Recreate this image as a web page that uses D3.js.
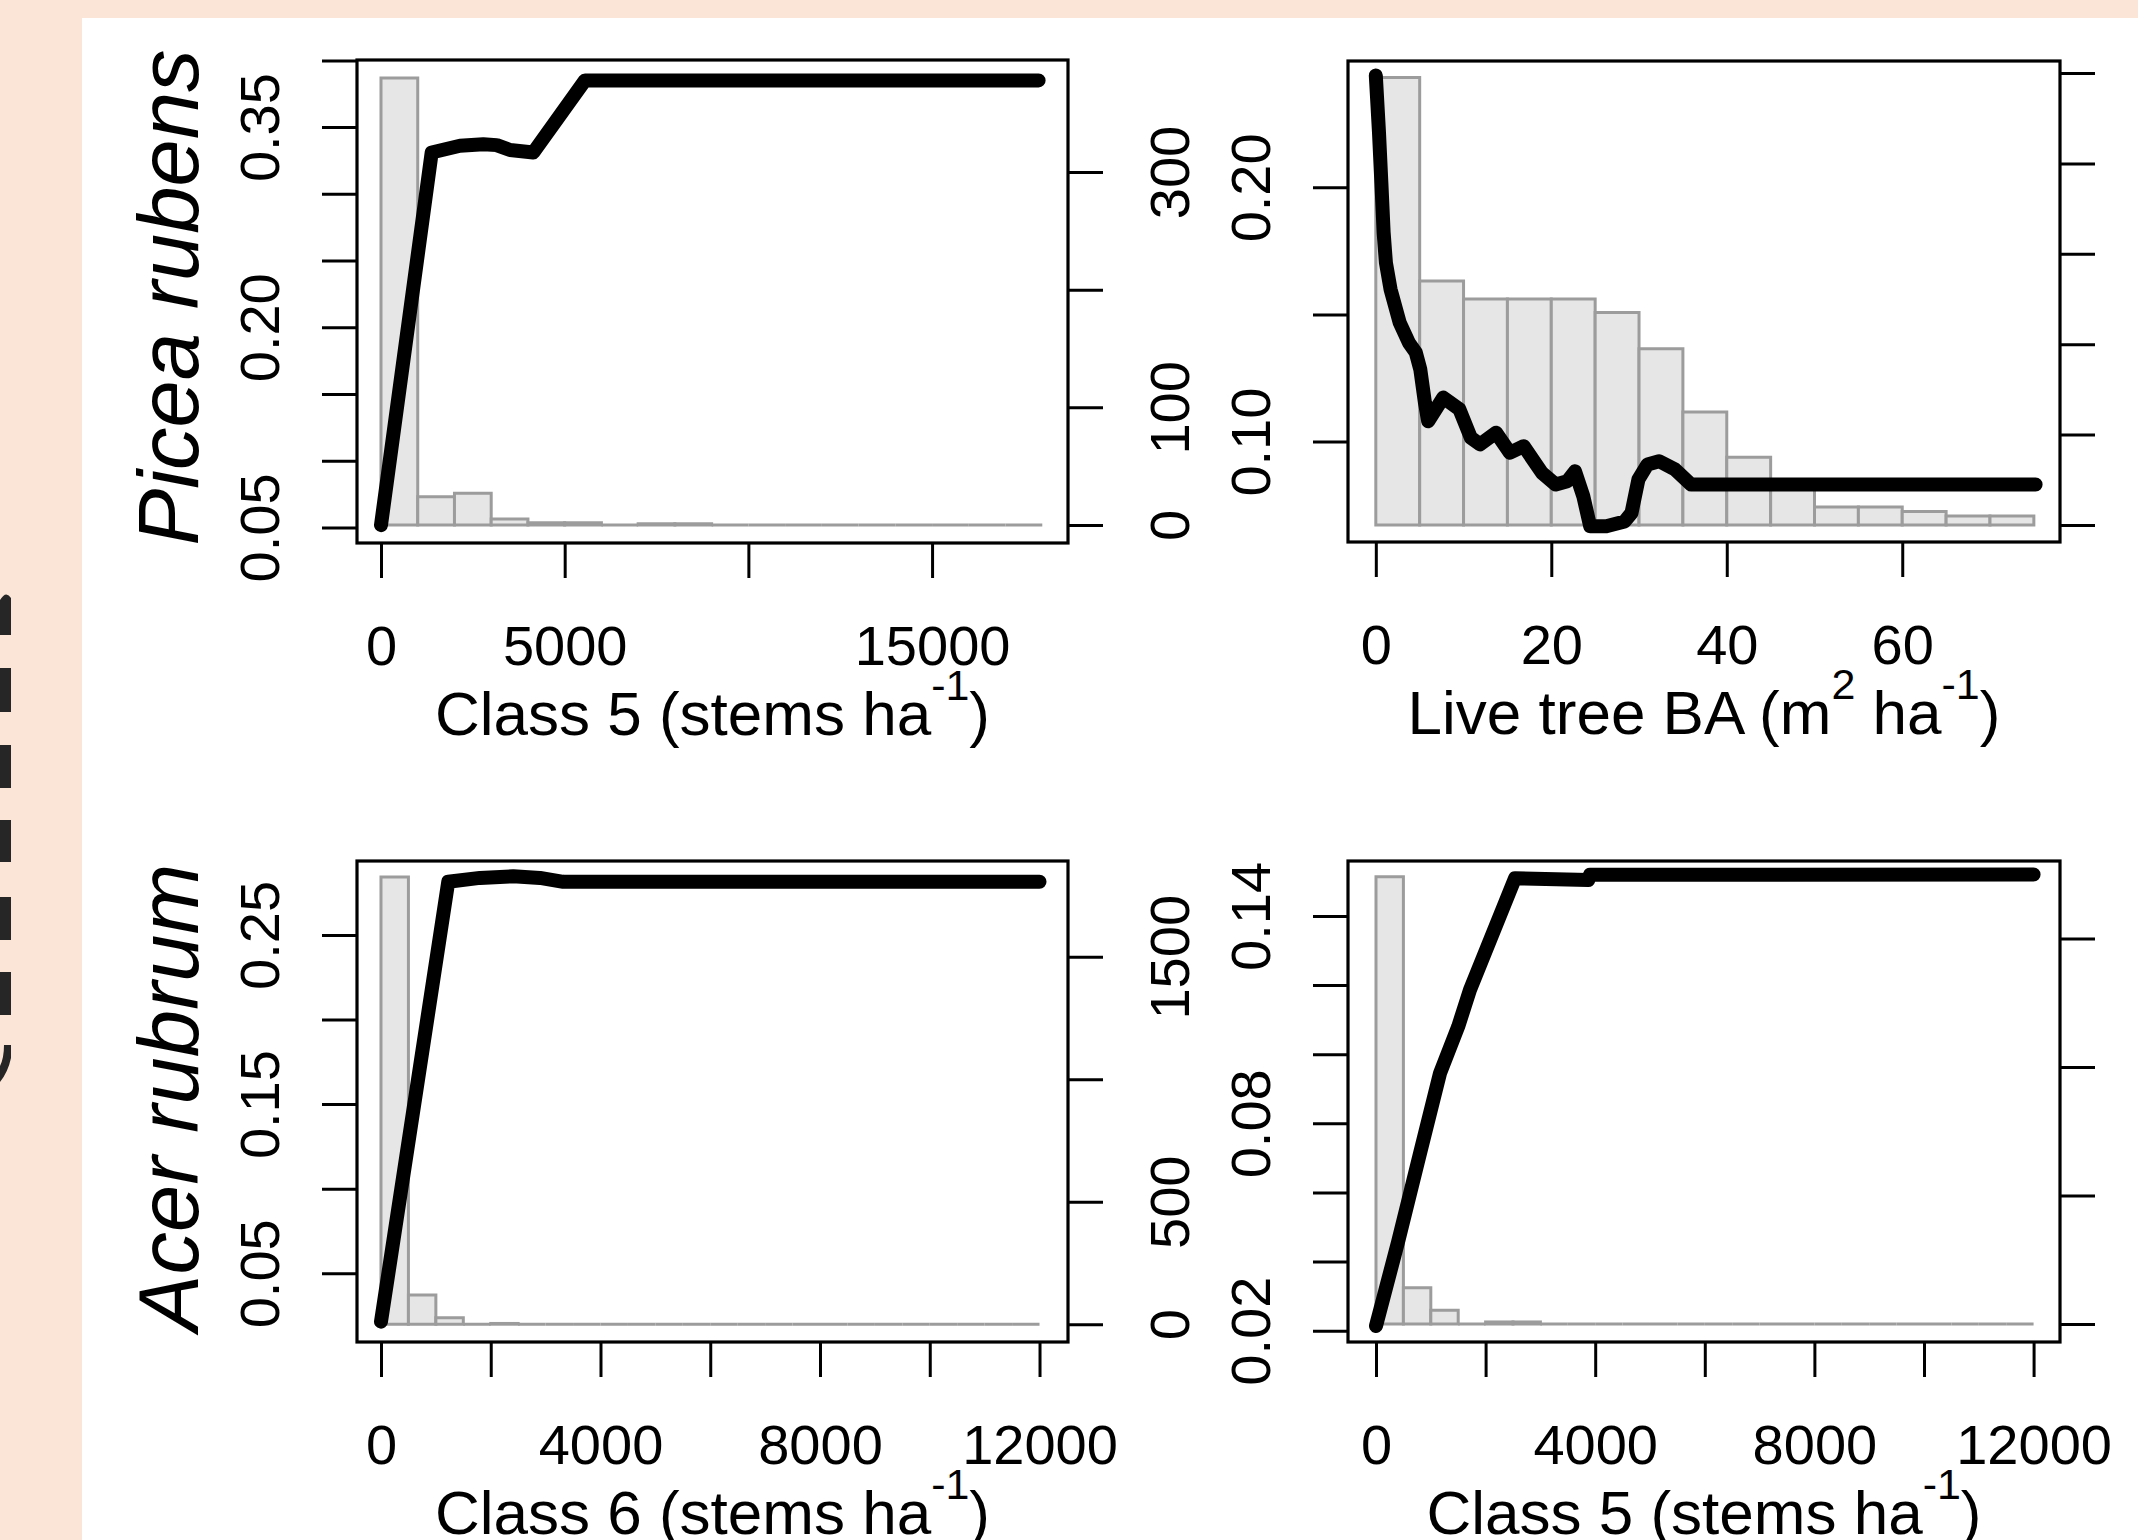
<!DOCTYPE html>
<html>
<head>
<meta charset="utf-8">
<script src="https://cdn.jsdelivr.net/npm/d3@7"></script>
<style>
  html, body { margin: 0; padding: 0; background: #FBE5D6; }
  svg { display: block; }
  text { font-family: "Liberation Sans", Arial, sans-serif; fill: #000; }
</style>
</head>
<body>
<svg id="fig" width="2138" height="1540"></svg>
<script>
// ---------- data ----------
// Picea rubens ~ Class 5 stems
var piceaC5X = [0, 1380, 2150, 2785, 3149, 3511, 4146, 5553, 17900];
var piceaC5Y = [0.0517, 0.331, 0.336, 0.3372, 0.3365, 0.3328, 0.331, 0.385, 0.385];
var piceaC5Counts = [380, 24, 27, 5, 2, 2, 0, 1, 1, 0, 0, 0, 0, 0, 0, 0, 0, 0]; // bins of 1000

// Picea rubens ~ live tree basal area
var piceaBAX = [0, 0.36, 0.63, 0.89, 1.15, 1.68, 2.72, 3.77, 4.56, 5.07, 5.6, 5.97, 7.69, 9.53, 10.84,
                11.88, 13.71, 15.28, 16.86, 18.94, 20.51, 21.82, 22.71, 23.65, 24.43, 26.27, 28.36,
                29.14, 29.93, 30.97, 32.28, 34.12, 35.94, 75.2];
var piceaBAY = [0.244, 0.2217, 0.202, 0.1823, 0.1704, 0.1599, 0.1468, 0.1389, 0.135, 0.1284, 0.1153,
                0.108, 0.1173, 0.1127, 0.1015, 0.0989, 0.1035, 0.0956, 0.0982, 0.0877, 0.0831, 0.0844,
                0.0883, 0.0785, 0.0667, 0.0667, 0.0686, 0.0719, 0.0851, 0.091, 0.0923, 0.089, 0.0831, 0.0831];
var piceaBACounts = [99, 54, 50, 50, 50, 47, 39, 25, 15, 8, 4, 4, 3, 2, 2]; // bins of 5

// Acer rubrum ~ Class 6 stems
var acerC6X = [0, 1226, 1804, 2411, 2897, 3322, 12000];
var acerC6Y = [0.0214, 0.2814, 0.2837, 0.2847, 0.2837, 0.2814, 0.2814];
var acerC6Counts = [1826, 119, 26, 0, 3, 0, 0, 0, 0, 0, 0, 0, 0, 0, 0, 0, 0, 0, 0, 0, 0, 0, 0, 0]; // bins of 500

// Acer rubrum ~ Class 5 stems
var acerC5X = [0, 400, 803, 1168, 1500, 1715, 2536, 3874, 3905, 12000];
var acerC5Y = [0.0214, 0.0455, 0.0713, 0.0945, 0.108, 0.1186, 0.1509, 0.1504, 0.1519, 0.152];
var acerC5Counts = [1740, 141, 54, 0, 8, 8, 0, 0, 0, 0, 0, 0, 0, 0, 0, 0, 0, 0, 0, 0, 0, 0, 0, 0]; // bins of 500

// tick values and labels ("" = tick without label)
var c5TicksX = [0, 5000, 10000, 15000];
var c5LabelsX = ["0", "5000", "", "15000"];
var baTicksX = [0, 20, 40, 60];
var baLabelsX = ["0", "20", "40", "60"];
var stemTicksX = [0, 2000, 4000, 6000, 8000, 10000, 12000];
var stemLabelsX = ["0", "", "4000", "", "8000", "", "12000"];

var piceaTicksY = [0.05, 0.10, 0.15, 0.20, 0.25, 0.30, 0.35, 0.40];
var piceaLabelsY = ["0.05", "", "", "0.20", "", "", "0.35", ""];
var piceaBATicksY = [0.10, 0.15, 0.20];
var piceaBALabelsY = ["0.10", "", "0.20"];
var acerC6TicksY = [0.05, 0.10, 0.15, 0.20, 0.25];
var acerC6LabelsY = ["0.05", "", "0.15", "", "0.25"];
var acerC5TicksY = [0.02, 0.04, 0.06, 0.08, 0.10, 0.12, 0.14];
var acerC5LabelsY = ["0.02", "", "", "0.08", "", "", "0.14"];

var countTicks300 = [0, 100, 200, 300];
var countLabels300 = ["0", "100", "", "300"];
var countTicks100 = [0, 20, 40, 60, 80, 100];
var countTicks1500 = [0, 500, 1000, 1500];
var countLabels1500 = ["0", "500", "", "1500"];

var species = ["Picea rubens", "Acer rubrum"];

// ---------- layout ----------
var svg = d3.select("#fig");
svg.append("rect").attr("x", 0).attr("y", 0).attr("width", 2138).attr("height", 1540).attr("fill", "#FBE5D6");
svg.append("rect").attr("x", 82).attr("y", 18).attr("width", 2056).attr("height", 1522).attr("fill", "#fff");

// fragments of a large cut-off glyph at the left edge
var frag = svg.append("g").attr("fill", "#262626");
[[668, 712], [745, 788], [820, 862], [897, 940], [972, 1015]].forEach(function(r) {
  frag.append("rect").attr("x", 0).attr("y", r[0]).attr("width", 11).attr("height", r[1] - r[0]);
});
frag.append("path").attr("d", "M0,600 Q6,590 11,598 L11,635 L0,635 Z");
frag.append("path").attr("d", "M11,1045 L11,1058 Q8,1072 0,1082 L0,1066 Q4,1058 4,1045 Z");

var TICK = 35;
var FONT = "Liberation Sans, Arial, sans-serif";

function drawPanel(p) {
  var g = svg.append("g");
  var x = d3.scaleLinear().domain(p.xDom).range([p.left, p.right]);
  var y = d3.scaleLinear().domain(p.yDom).range([p.bottom, p.top]);
  var yc = d3.scaleLinear().domain(p.cDom).range([p.bottom, p.top]);

  // histogram of the predictor (secondary axis); paths so empty bins still show
  g.append("g").selectAll("path").data(p.counts).enter().append("path")
    .attr("d", function(d, i) {
      var x0 = x(i * p.binW), x1 = x((i + 1) * p.binW), y0 = yc(0), y1 = yc(d);
      return "M" + x0 + "," + y0 + "V" + y1 + "H" + x1 + "V" + y0 + "Z";
    })
    .attr("fill", "#E6E6E6")
    .attr("stroke", "#9C9C9C")
    .attr("stroke-width", 3);

  // partial dependence line
  var pts = p.lx.map(function(v, i) { return [v, p.ly[i]]; });
  g.append("path")
    .attr("d", d3.line().x(function(d) { return x(d[0]); }).y(function(d) { return y(d[1]); })(pts))
    .attr("fill", "none")
    .attr("stroke", "#000")
    .attr("stroke-width", 14)
    .attr("stroke-linecap", "round")
    .attr("stroke-linejoin", "round");

  // box
  g.append("rect")
    .attr("x", p.left).attr("y", p.top)
    .attr("width", p.right - p.left).attr("height", p.bottom - p.top)
    .attr("fill", "none").attr("stroke", "#000").attr("stroke-width", 3.2);

  // bottom axis
  var ax = g.append("g").attr("transform", "translate(0," + p.bottom + ")")
    .call(d3.axisBottom(x).tickValues(p.xTicks).tickSize(TICK).tickPadding(47)
      .tickFormat(function(d, i) { return p.xLabels[i]; }));
  ax.select(".domain").remove();
  ax.selectAll("line").attr("stroke-width", 3);
  ax.selectAll("text").attr("font-size", 56).attr("font-family", FONT);

  // left axis
  var ay = g.append("g").attr("transform", "translate(" + p.left + ",0)")
    .call(d3.axisLeft(y).tickValues(p.yTicks).tickSize(TICK)
      .tickFormat(function(d, i) { return p.yLabels[i]; }));
  ay.select(".domain").remove();
  ay.selectAll("line").attr("stroke-width", 3);
  ay.selectAll("text")
    .attr("transform", "rotate(-90)")
    .attr("x", 0).attr("y", -78).attr("dy", null)
    .attr("text-anchor", "middle")
    .attr("font-size", 56).attr("font-family", FONT);

  // right axis (histogram counts)
  var ar = g.append("g").attr("transform", "translate(" + p.right + ",0)")
    .call(d3.axisRight(yc).tickValues(p.cTicks).tickSize(TICK)
      .tickFormat(function(d, i) { return p.cLabels ? p.cLabels[i] : ""; }));
  ar.select(".domain").remove();
  ar.selectAll("line").attr("stroke-width", 3);
  ar.selectAll("text")
    .attr("transform", "rotate(-90)")
    .attr("x", 0).attr("y", 121).attr("dy", null)
    .attr("text-anchor", "middle")
    .attr("font-size", 56).attr("font-family", FONT);

  // x title with superscripts
  var t = g.append("text")
    .attr("x", (p.left + p.right) / 2)
    .attr("y", p.bottom + 192)
    .attr("text-anchor", "middle")
    .attr("font-size", 62);
  p.title.forEach(function(part) {
    var s = t.append("tspan").text(part[0]);
    if (part[1] === "sup") s.attr("font-size", 43).attr("dy", -35);
    if (part[1] === "down") s.attr("dy", 35);
  });

  // species label
  if (p.species) {
    g.append("text")
      .attr("transform", "translate(198," + ((p.top + p.bottom) / 2 - 4) + ") rotate(-90)")
      .attr("text-anchor", "middle")
      .attr("font-size", 85)
      .attr("font-style", "italic")
      .text(p.species);
  }
}

drawPanel({
  left: 357, right: 1068, top: 60, bottom: 543,
  xDom: [-653, 18700], yDom: [0.0383, 0.4003], cDom: [-15.3, 395.2],
  lx: piceaC5X, ly: piceaC5Y, counts: piceaC5Counts, binW: 1000,
  xTicks: c5TicksX, xLabels: c5LabelsX,
  yTicks: piceaTicksY, yLabels: piceaLabelsY,
  cTicks: countTicks300, cLabels: countLabels300,
  title: [["Class 5 (stems ha"], ["-1", "sup"], [")", "down"]],
  species: species[0]
});

drawPanel({
  left: 1348, right: 2060, top: 61, bottom: 542,
  xDom: [-3.17, 77.98], yDom: [0.0605, 0.2497], cDom: [-3.76, 102.65],
  lx: piceaBAX, ly: piceaBAY, counts: piceaBACounts, binW: 5,
  xTicks: baTicksX, xLabels: baLabelsX,
  yTicks: piceaBATicksY, yLabels: piceaBALabelsY,
  cTicks: countTicks100, cLabels: null,
  title: [["Live tree BA (m"], ["2", "sup"], [" ha", "down"], ["-1", "sup"], [")", "down"]]
});

drawPanel({
  left: 357, right: 1068, top: 861, bottom: 1342,
  xDom: [-437, 12519], yDom: [0.0094, 0.2937], cDom: [-72.7, 1891],
  lx: acerC6X, ly: acerC6Y, counts: acerC6Counts, binW: 500,
  xTicks: stemTicksX, xLabels: stemLabelsX,
  yTicks: acerC6TicksY, yLabels: acerC6LabelsY,
  cTicks: countTicks1500, cLabels: countLabels1500,
  title: [["Class 6 (stems ha"], ["-1", "sup"], [")", "down"]],
  species: species[1]
});

drawPanel({
  left: 1348, right: 2060, top: 861, bottom: 1342,
  xDom: [-511, 12482], yDom: [0.01673, 0.1559], cDom: [-70, 1801.6],
  lx: acerC5X, ly: acerC5Y, counts: acerC5Counts, binW: 500,
  xTicks: stemTicksX, xLabels: stemLabelsX,
  yTicks: acerC5TicksY, yLabels: acerC5LabelsY,
  cTicks: countTicks1500, cLabels: null,
  title: [["Class 5 (stems ha"], ["-1", "sup"], [")", "down"]]
});
</script>
</body>
</html>
